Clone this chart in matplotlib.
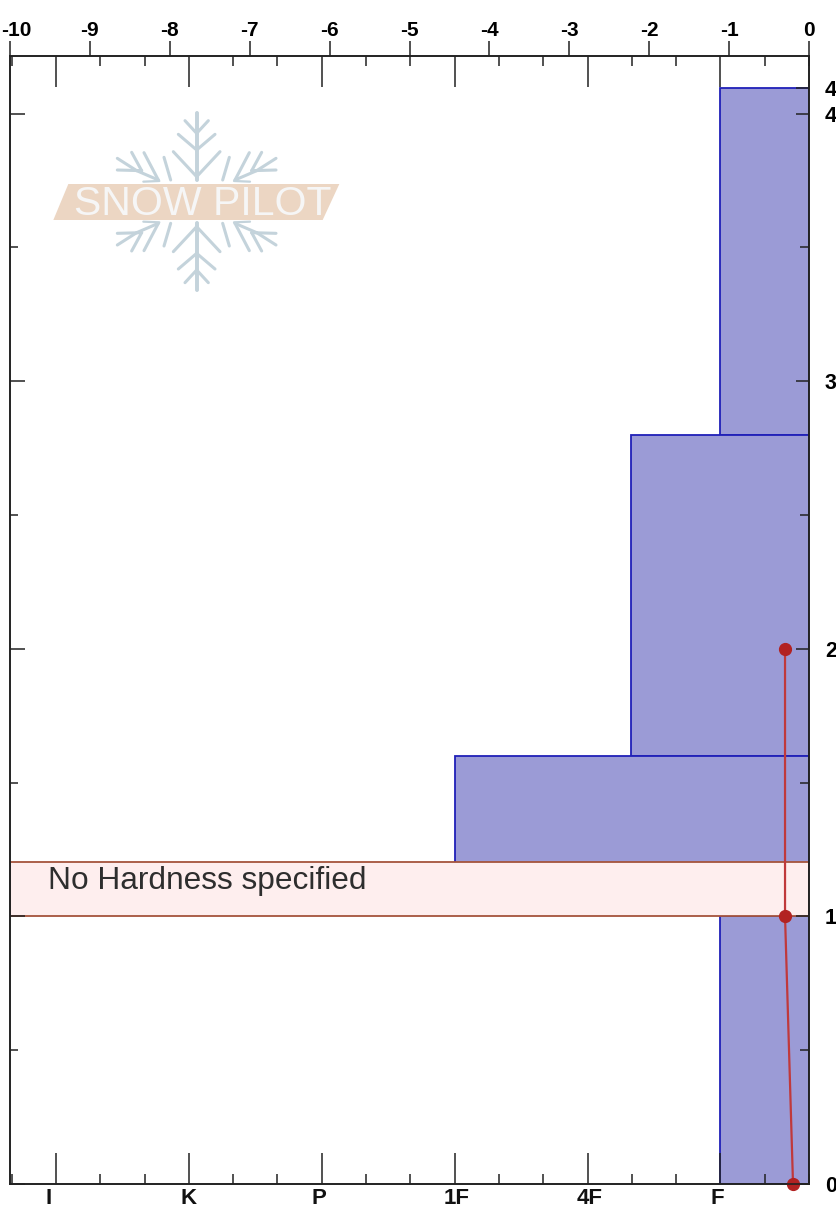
import matplotlib
matplotlib.use("Agg")
import matplotlib.pyplot as plt
from matplotlib.patches import Polygon
from matplotlib.transforms import ScaledTranslation

plt.rcParams['font.family'] = ['Liberation Sans', 'DejaVu Sans']

# temperature profile
temp_depth = [2, 1, 0]
temp_values = [-0.3, -0.3, -0.2]

# layers, hardness as position on the scale below
layer_bottom = [2.80, 1.60, 1.20, 0.0]
layer_top = [4.096, 2.80, 1.60, 1.0]
layer_hardness = [5, 4.33, 3, 5]

# layer with no hardness
nohard_bottom = 1.0
nohard_top = 1.203
nohard_text = "No Hardness specified"

hardness_labels = ["I", "K", "P", "1F", "4F", "F"]
hardness_shift = [-7, 0, -3, 2, 2, -3]
temp_ticks = [-10, -9, -8, -7, -6, -5, -4, -3, -2, -1, 0]
depth_ticks = [0, 1, 2, 3, 4, 4.096]
depth_labels = ["0", "1", "2", "3", "4", "4"]

W, H = 837, 1210
fig = plt.figure(figsize=(W / 100, H / 100), dpi=100)
pos = [10 / W, (H - 1184) / H, 799 / W, 1128 / H]

ax2 = fig.add_axes(pos)
ax = fig.add_axes(pos, zorder=3)
ax.patch.set_visible(False)

hard_min, hard_max = -0.346, 5.666
depth_max = 4.215
ax2.set_xlim(hard_min, hard_max)
ax2.set_ylim(0, depth_max)
ax.set_xlim(-10, 0)
ax.set_ylim(0, depth_max)

# layers
for b, t, h in zip(layer_bottom, layer_top, layer_hardness):
    ax2.barh(b, hard_max - h, height=t - b, left=h, align='edge',
             color='#9b9bd6', edgecolor='#2020b8', linewidth=1.3)

ax2.barh(nohard_bottom, hard_max - hard_min, height=nohard_top - nohard_bottom,
         left=hard_min, align='edge', color='#feeeee', edgecolor='#a5533c',
         linewidth=1.3, zorder=1.2)
ax2.annotate(nohard_text, (hard_min, nohard_top), xycoords='data', xytext=(38, -19),
             textcoords='offset pixels', fontsize=22.8, color='#2e2e2e', va='center')

# hardness ticks, bottom and top
ax2.set_xticks(range(len(hardness_labels)))
ax2.set_xticks([-1 / 3, 1 / 3, 2 / 3, 4 / 3, 5 / 3, 7 / 3, 8 / 3, 10 / 3, 11 / 3,
                13 / 3, 14 / 3, 16 / 3, 17 / 3], minor=True)
ax2.set_xticklabels([])
ax2.tick_params(axis='x', which='major', direction='in', top=True, bottom=True,
                length=22.5, width=1.1, color='#222222')
ax2.tick_params(axis='x', which='minor', direction='in', top=True, bottom=True,
                length=7.2, width=1.1, color='#222222')
for i, lab in enumerate(hardness_labels):
    ax2.annotate(lab, (i, 0), xycoords=ax2.get_xaxis_transform(),
                 xytext=(hardness_shift[i], -14), textcoords='offset pixels',
                 ha='center', va='center', fontsize=16, fontweight='bold',
                 color='#111111', annotation_clip=False)

# depth ticks, left
ax2.set_yticks([0, 1, 2, 3, 4])
ax2.set_yticks([0.5, 1.5, 2.5, 3.5], minor=True)
ax2.set_yticklabels([])
ax2.tick_params(axis='y', which='major', direction='in', length=10.8, width=1.1, color='#222222')
ax2.tick_params(axis='y', which='minor', direction='in', length=5.8, width=1.1, color='#222222')

# temperature ticks on top, depth labels right
ax.xaxis.tick_top()
ax.set_xticks(temp_ticks)
ax.set_xticklabels([str(t) for t in temp_ticks], fontsize=15, fontweight='bold')
ax.tick_params(axis='x', direction='out', length=10.8, width=1.1, pad=1, color='#222222')
ax.yaxis.tick_right()
ax.set_yticks(depth_ticks)
ax.set_yticklabels(depth_labels, fontsize=15.5, fontweight='bold')
ax.set_yticks([0.5, 1.5, 2.5, 3.5], minor=True)
ax.tick_params(axis='y', which='major', direction='in', length=9.7, width=1.1, pad=11.5, color='#222222')
ax.tick_params(axis='y', which='minor', direction='in', length=6.5, width=1.1, color='#222222')

# -10 sits right of its tick so it stays in the picture
first = ax.get_xticklabels()[0]
first.set_transform(first.get_transform() + ScaledTranslation(6 / 100, 0, fig.dpi_scale_trans))

for a in (ax, ax2):
    for s in a.spines.values():
        s.set_linewidth(1.2)
        s.set_color('#222222')

ax.plot(temp_values, temp_depth, color='#c0393b', linewidth=1.6, marker='o',
        markersize=8.5, markerfacecolor='#b22222', markeredgecolor='#b22222',
        clip_on=False)

# logo, in pixels of the picture
logo = fig.add_axes([0, 0, 1, 1], zorder=4)
logo.set_xlim(0, W)
logo.set_ylim(H, 0)
logo.axis('off')

flake = '#c4d3db'
cx, cy = 590 / 3, 605 / 3

def flake_line(x0, y0, x1, y1, lw=2.2):
    # zoom coords, mirrored to all four corners
    for sx in (1, -1):
        for sy in (1, -1):
            logo.plot([cx + sx * (x0 - 590) / 3, cx + sx * (x1 - 590) / 3],
                      [cy + sy * (y0 - 605) / 3, cy + sy * (y1 - 605) / 3],
                      color=flake, linewidth=lw, solid_capstyle='round')

flake_line(590, 540, 590, 340, 2.6)
flake_line(590, 530, 520, 455)
flake_line(590, 450, 535, 403)
flake_line(590, 400, 555, 362)
flake_line(475, 540, 432, 458)
flake_line(475, 540, 410, 512)
flake_line(410, 512, 352, 475)
flake_line(425, 512, 395, 457)
flake_line(425, 512, 352, 510)
flake_line(512, 540, 492, 472)
flake_line(430, 545, 478, 543, 1.6)

banner_xy = [(205 / 3, 552 / 3), (1018 / 3, 552 / 3), (968 / 3, 660 / 3), (160 / 3, 660 / 3)]
logo.add_patch(Polygon(banner_xy, closed=True, facecolor='#ecd6c3', edgecolor='none', zorder=3))
logo.text(203, 204, "SNOW PILOT", ha='center', va='center', fontsize=29.5,
          color='#f6f6f6', zorder=4)

fig.savefig("out.png", dpi=100)
